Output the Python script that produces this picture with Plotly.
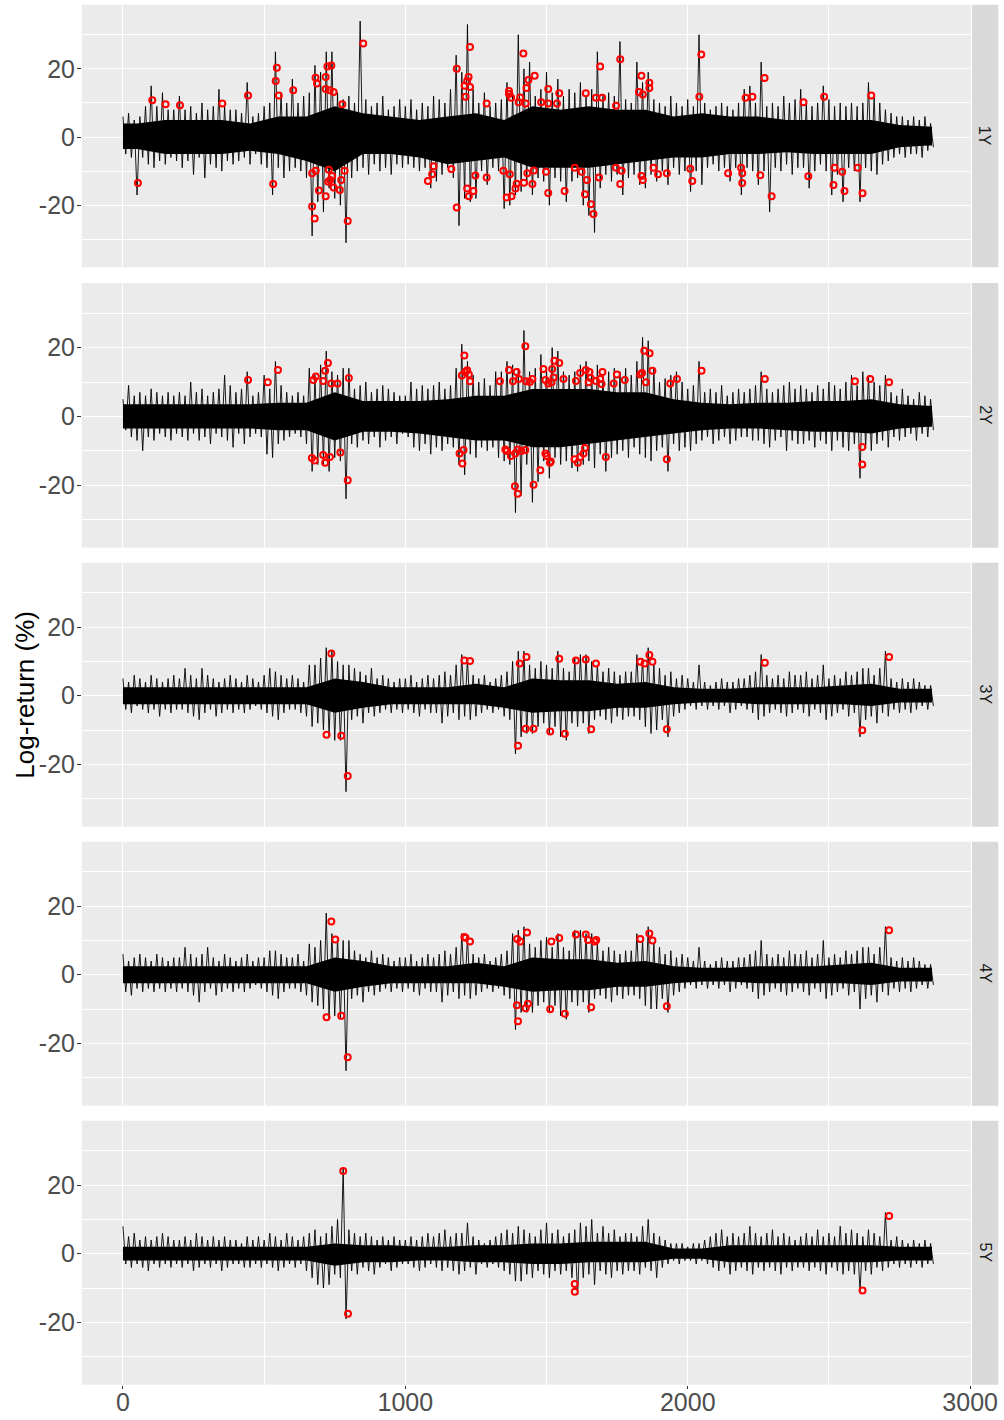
import plotly.graph_objects as go

# ---- data -------------------------------------------------------------
# Log-returns summarised per bin of 20 observations: highest and lowest value
BIN = 20
panels = ["1Y", "2Y", "3Y", "4Y", "5Y"]

hi_1y = [6, 7, 5, 6, 9, 15, 9, 13, 8, 8,
         12, 8, 9, 7, 10, 8, 9, 14, 9, 8,
         8, 7, 16, 6, 7, 9, 10, 25, 13, 10,
         17, 10, 12, 13, 21, 19, 25, 25, 13, 11,
         12, 10, 34, 11, 9, 10, 12, 8, 9, 11,
         9, 11, 8, 10, 9, 12, 11, 10, 14, 24,
         19, 33, 14, 10, 13, 9, 10, 11, 16, 13,
         30, 20, 22, 12, 14, 19, 13, 17, 12, 14,
         13, 16, 12, 14, 25, 12, 13, 12, 28, 11,
         10, 22, 16, 19, 11, 10, 9, 12, 10, 9,
         11, 9, 30, 10, 8, 9, 10, 9, 8, 10,
         14, 15, 10, 22, 9, 10, 9, 12, 10, 11,
         14, 10, 9, 10, 15, 11, 9, 10, 9, 10,
         9, 10, 16, 12, 10, 8, 7, 6, 6, 5, 6, 5, 6, 4]
lo_1y = [-5, -6, -17, -6, -8, -9, -7, -8, -6, -7,
         -9, -7, -11, -6, -12, -8, -9, -10, -7, -8,
         -7, -6, -8, -5, -8, -9, -17, -9, -12, -10,
         -9, -10, -12, -29, -19, -22, -15, -18, -20, -31,
         -12, -10, -9, -11, -8, -10, -9, -11, -8, -9,
         -8, -9, -10, -9, -15, -13, -11, -9, -12, -26,
         -18, -19, -18, -10, -14, -9, -10, -21, -20, -17,
         -16, -14, -17, -12, -13, -20, -12, -13, -19, -13,
         -12, -20, -23, -28, -15, -11, -13, -11, -17, -12,
         -11, -14, -15, -11, -13, -10, -14, -9, -11, -10,
         -16, -10, -14, -9, -8, -10, -9, -13, -9, -17,
         -9, -10, -14, -10, -22, -9, -10, -8, -11, -9,
         -9, -15, -10, -8, -10, -17, -11, -19, -9, -10,
         -19, -9, -10, -11, -8, -7, -6, -5, -6, -5, -5, -6, -4, -3]

hi_2y = [5, 9, 6, 7, 6, 8, 7, 6, 7, 6,
         7, 6, 10, 7, 8, 6, 7, 8, 12, 9,
         7, 8, 13, 6, 7, 12, 8, 16, 9, 7,
         6, 7, 6, 14, 12, 15, 19, 13, 12, 14,
         14, 8, 9, 10, 7, 8, 9, 8, 7, 6,
         6, 10, 8, 9, 8, 9, 10, 8, 9, 14,
         21, 16, 12, 10, 11, 9, 13, 13, 16, 15,
         14, 25, 13, 14, 18, 14, 20, 19, 13, 12,
         13, 15, 16, 13, 15, 12, 13, 14, 13, 14,
         12, 16, 23, 22, 14, 10, 11, 12, 13, 10,
         8, 9, 16, 7, 8, 7, 9, 6, 7, 8,
         7, 8, 9, 13, 8, 7, 8, 9, 10, 8,
         9, 8, 7, 9, 8, 10, 9, 8, 10, 12,
         9, 13, 12, 10, 9, 12, 7, 6, 8, 6, 5, 7, 6, 5]
lo_2y = [-4, -6, -7, -10, -6, -7, -5, -6, -7, -5,
         -6, -7, -5, -7, -6, -8, -5, -6, -7, -9,
         -5, -8, -6, -5, -6, -11, -12, -8, -7, -6,
         -5, -6, -8, -16, -14, -14, -16, -12, -13, -24,
         -8, -9, -7, -8, -6, -9, -7, -6, -8, -5,
         -6, -9, -10, -8, -11, -9, -10, -8, -9, -14,
         -17, -11, -12, -9, -10, -9, -12, -13, -14, -28,
         -23, -14, -25, -19, -13, -18, -12, -14, -13, -15,
         -16, -14, -13, -15, -11, -16, -12, -11, -10, -12,
         -9, -11, -12, -13, -10, -9, -16, -8, -10, -9,
         -10, -8, -7, -6, -8, -7, -6, -8, -7, -6,
         -6, -7, -7, -8, -9, -7, -6, -10, -7, -8,
         -8, -7, -9, -7, -8, -10, -7, -9, -10, -8,
         -18, -9, -10, -8, -7, -9, -6, -7, -6, -5, -7, -5, -6, -4]

hi_3y = [5, 4, 6, 5, 4, 6, 5, 4, 5, 6,
         5, 8, 6, 5, 8, 6, 5, 4, 5, 6,
         5, 4, 6, 5, 4, 6, 8, 7, 6, 5,
         6, 5, 4, 9, 9, 11, 14, 13, 10, 9,
         9, 8, 7, 6, 8, 5, 6, 5, 4, 5,
         5, 6, 4, 5, 6, 5, 6, 7, 6, 9,
         12, 11, 6, 5, 6, 4, 5, 6, 7, 10,
         13, 13, 9, 8, 10, 9, 8, 13, 8, 7,
         11, 12, 12, 10, 9, 7, 8, 7, 6, 7,
         7, 12, 11, 14, 9, 8, 6, 7, 5, 6,
         5, 4, 9, 4, 3, 4, 5, 4, 4, 5,
         5, 6, 7, 12, 6, 5, 6, 5, 7, 6,
         6, 7, 5, 6, 9, 5, 6, 5, 7, 6,
         7, 8, 8, 6, 8, 13, 5, 4, 5, 4, 5, 4, 3, 3]
lo_3y = [-4, -5, -3, -4, -5, -4, -6, -4, -5, -4,
         -4, -5, -6, -7, -5, -4, -6, -5, -4, -5,
         -4, -5, -4, -3, -4, -5, -6, -7, -5, -4,
         -4, -5, -6, -9, -8, -10, -12, -13, -13, -28,
         -7, -6, -8, -5, -6, -5, -4, -5, -4, -5,
         -4, -5, -6, -4, -5, -5, -8, -6, -5, -7,
         -6, -7, -6, -5, -4, -5, -4, -6, -7, -17,
         -12, -11, -11, -9, -8, -11, -9, -12, -13, -8,
         -9, -8, -11, -7, -6, -7, -8, -6, -7, -6,
         -6, -7, -9, -11, -10, -7, -12, -6, -5, -4,
         -3, -4, -3, -4, -3, -4, -3, -5, -4, -3,
         -4, -5, -7, -6, -5, -4, -5, -6, -5, -4,
         -5, -6, -4, -5, -7, -6, -5, -4, -6, -5,
         -12, -7, -6, -8, -5, -6, -4, -5, -4, -5, -4, -3, -4, -3]

hi_4y = [6, 4, 5, 6, 5, 4, 6, 5, 4, 5,
         5, 8, 6, 5, 6, 8, 5, 4, 6, 5,
         4, 5, 6, 4, 5, 5, 7, 7, 6, 5,
         5, 6, 4, 9, 8, 10, 18, 12, 11, 10,
         10, 7, 6, 5, 7, 5, 6, 5, 4, 5,
         5, 6, 4, 5, 6, 5, 6, 7, 6, 8,
         12, 11, 6, 5, 6, 4, 5, 6, 7, 12,
         13, 14, 9, 8, 10, 11, 8, 12, 8, 7,
         13, 13, 12, 12, 9, 7, 8, 7, 6, 7,
         7, 12, 10, 14, 9, 8, 6, 7, 5, 6,
         5, 4, 8, 4, 3, 4, 5, 4, 4, 5,
         5, 6, 7, 10, 6, 5, 6, 5, 7, 6,
         6, 7, 5, 6, 10, 5, 6, 5, 7, 6,
         7, 8, 8, 6, 8, 14, 5, 4, 5, 4, 5, 4, 3, 3]
lo_4y = [-5, -6, -4, -5, -4, -5, -4, -5, -4, -5,
         -4, -5, -6, -8, -5, -4, -6, -5, -4, -5,
         -4, -5, -4, -3, -4, -5, -6, -7, -5, -4,
         -4, -5, -6, -8, -9, -10, -13, -12, -13, -28,
         -7, -6, -8, -5, -6, -5, -4, -5, -4, -5,
         -4, -5, -6, -4, -5, -5, -8, -6, -5, -7,
         -6, -7, -6, -5, -4, -5, -4, -6, -7, -16,
         -11, -11, -11, -9, -8, -11, -9, -12, -13, -8,
         -9, -8, -11, -7, -6, -7, -8, -6, -7, -6,
         -6, -7, -9, -10, -10, -7, -11, -6, -5, -4,
         -3, -4, -3, -4, -3, -4, -3, -5, -4, -3,
         -4, -5, -7, -6, -5, -4, -5, -6, -5, -4,
         -5, -6, -4, -5, -7, -6, -5, -4, -6, -5,
         -10, -7, -6, -8, -5, -6, -4, -5, -4, -5, -4, -3, -4, -3]

hi_5y = [8, 5, 6, 4, 5, 4, 5, 6, 5, 4,
         4, 5, 4, 6, 5, 4, 5, 4, 5, 4,
         4, 3, 5, 4, 5, 4, 6, 5, 4, 6,
         5, 4, 5, 6, 7, 5, 6, 8, 10, 25,
         7, 6, 5, 6, 5, 4, 5, 4, 5, 4,
         4, 5, 4, 5, 6, 5, 6, 7, 5, 6,
         6, 9, 5, 4, 3, 4, 5, 6, 7, 6,
         8, 7, 6, 5, 7, 9, 6, 7, 5, 6,
         7, 9, 8, 10, 6, 8, 6, 7, 5, 6,
         6, 5, 8, 10, 6, 5, 4, 3, 3, 3,
         2, 3, 3, 4, 5, 6, 7, 5, 6, 5,
         6, 8, 6, 5, 6, 7, 5, 6, 5, 4,
         5, 6, 5, 7, 5, 6, 5, 8, 6, 7,
         6, 5, 7, 6, 5, 12, 4, 5, 4, 3, 4, 3, 4, 3]
lo_5y = [-3, -4, -3, -4, -5, -3, -4, -3, -4, -3,
         -4, -3, -5, -4, -3, -4, -3, -5, -4, -3,
         -3, -4, -4, -3, -4, -3, -4, -5, -4, -3,
         -4, -3, -5, -7, -9, -10, -9, -6, -7, -19,
         -5, -6, -4, -5, -6, -4, -3, -5, -4, -3,
         -3, -4, -5, -4, -3, -4, -5, -4, -5, -6,
         -5, -4, -6, -3, -4, -3, -4, -5, -6, -8,
         -8, -6, -7, -5, -6, -7, -5, -6, -5, -7,
         -12, -7, -6, -9, -5, -6, -7, -5, -6, -5,
         -5, -6, -4, -5, -7, -4, -3, -2, -3, -2,
         -2, -3, -2, -3, -4, -5, -4, -6, -5, -4,
         -5, -6, -4, -5, -4, -5, -6, -4, -5, -4,
         -4, -5, -4, -5, -6, -4, -5, -6, -5, -6,
         -11, -5, -6, -4, -5, -4, -3, -4, -3, -4, -3, -4, -3, -3]

# Dense core of each series (where most observations lie), per 100 observations
CORE_BIN = 100
core_hi_1y = [4, 5, 5, 5, 4, 6, 6, 9, 7, 6, 5, 6, 7, 5, 9, 8, 9, 8, 8, 6, 7, 6, 6, 5, 5, 5, 5, 3.5, 3]
core_lo_1y = [-3.5, -5, -5, -5, -4, -5, -7, -10, -5, -5, -6, -8, -7, -6, -9, -9, -9, -8, -7, -6, -6, -5, -5, -4.5, -5, -5, -5, -3, -2.5]
core_hi_2y = [3.5, 3.5, 3.5, 3.5, 3.5, 4, 4, 7, 4.5, 4.5, 4.5, 5, 6, 6, 8, 8, 8, 7, 7, 5, 4, 3.5, 4, 4, 4.5, 4.5, 5, 3.5, 3]
core_lo_2y = [-3.5, -3.5, -3.5, -3.5, -3.5, -4, -4, -7, -4.5, -4.5, -5, -6, -7, -7, -9, -9, -8, -7, -6, -5, -4, -3.5, -3.5, -4, -4.5, -4.5, -5, -3.5, -3]
core_hi_3y = [2.5, 2.5, 2.5, 2.5, 2.5, 2.5, 2.5, 5, 4, 2.5, 2.5, 2.5, 3.5, 2.5, 5, 4.5, 4.5, 3.5, 4, 2.5, 2, 2, 2.5, 2.5, 2.5, 3, 3.5, 2, 2]
core_lo_3y = [-2.5, -2.5, -2.5, -2.5, -2.5, -2.5, -2.5, -5, -3.5, -2.5, -2.5, -2.5, -2.5, -3.5, -5, -4.5, -4.5, -3.5, -3.5, -2.5, -2, -2, -2.5, -2.5, -2.5, -2.5, -3, -2, -2]
core_hi_4y = [2.5, 2.5, 2.5, 2.5, 2.5, 2.5, 2.5, 5, 4, 2.5, 2.5, 2.5, 3.5, 2.5, 5, 4.5, 4.5, 3.5, 4, 2.5, 2, 2, 2.5, 2.5, 2.5, 3, 3.5, 2, 2]
core_lo_4y = [-2.5, -2.5, -2.5, -2.5, -2.5, -2.5, -2.5, -5, -3.5, -2.5, -2.5, -2.5, -2.5, -3.5, -5, -4.5, -4.5, -3.5, -3.5, -2.5, -2, -2, -2.5, -2.5, -2.5, -2.5, -3, -2, -2]
core_hi_5y = [2, 2, 2, 2, 2, 2, 2, 3, 2.5, 2.5, 2, 2, 2.5, 2.5, 3, 3, 3.5, 3.5, 3.5, 1.5, 1.5, 2.5, 2.5, 2.5, 2.5, 2.5, 2.5, 2, 2]
core_lo_5y = [-2, -2, -2, -2, -2, -2, -2, -3.5, -2.5, -2.5, -2, -2, -2.5, -2.5, -3, -3, -2.5, -2.5, -2.5, -1.5, -1.5, -2.5, -2.5, -2.5, -2.5, -2.5, -2.5, -2, -2]
LAST_OBS = 2865

# Flagged extreme returns (index, log-return %)
ext_x_1y = [53, 104, 151, 202, 352, 443, 532, 541, 545, 552, 603, 670, 670, 679, 682, 687, 683, 694,
            718, 718, 724, 738, 732, 746, 718, 729, 727, 734, 741, 746, 777, 773, 768, 785, 796, 851,
            1080, 1095, 1100, 1163, 1182, 1182, 1210, 1213, 1219, 1224, 1229, 1229, 1219, 1225, 1241,
            1248, 1288, 1288, 1347, 1359, 1367, 1367, 1370, 1375, 1376, 1390, 1394, 1401, 1407, 1418,
            1420, 1426, 1429, 1432, 1436, 1450, 1455, 1458, 1481, 1498, 1506, 1506, 1506, 1537, 1545,
            1564, 1600, 1624, 1636, 1639, 1643, 1657, 1666, 1675, 1686, 1690, 1697, 1746, 1746, 1761,
            1761, 1766, 1827, 1836, 1836, 1841, 1841, 1864, 1864, 1879, 1895, 1926, 2009, 2016, 2041,
            2048, 2143, 2189, 2193, 2193, 2205, 2229, 2257, 2272, 2297, 2410, 2427, 2483, 2516, 2520,
            2547, 2555, 2602, 2619, 2650]
ext_y_1y = [-13.5, 10.8, 9.6, 9.3, 9.8, 12.2, -13.8, 16.4, 20.3, 12.2, 13.7, -10.6, -20.4, -23.9, 17.4,
            15.7, -9.9, -15.7, 17.6, 14.1, 20.7, 21.0, 13.7, 13.2, -17.4, -9.6, -13.1, -12.6, -11.4,
            -14.8, 9.6, -12.6, -15.5, -9.9, -24.6, 27.4,
            -12.9, -10.9, -8.6, -9.4, 20.0, -20.7, 15.0, 11.8, 16.4, 17.6, 26.4, 14.7, -15.1, -17.4,
            -15.8, -11.3, 9.8, -11.9, -9.9, -17.7, 13.5, 12.6, -10.9, 11.5, -17.4, -15.1, -13.7, 10.2,
            11.6, 24.5, -13.4, 9.8, 14.4, -10.6, 16.7, -13.8, -9.8, 18.0, 10.2, -10.2, 14.1, 9.8, -16.4,
            9.8, 12.8, -15.8, -9.0, -10.2, -16.8, 12.8, -12.6, -19.7, -22.6, 11.5, -11.9, 20.7, 11.5,
            9.2, -9.0, 22.8, -13.8, -9.9, 13.2, 18.0, -11.4, 12.5, -12.6, 15.9, 14.4, -9.0, -10.9,
            -10.6, -9.3, -12.9, 11.8, 24.2, -10.6, -9.0, -10.6, -13.5, 11.5, 11.8, -11.2, 17.3, -17.4,
            10.2, -11.5, 11.8, -14.1, -9.0, -10.2, -15.8, -9.0, -16.5, 12.2]

ext_x_2y = [443, 513, 549, 674, 683, 709, 716, 726, 738, 760, 800, 1200, 1209, 1212, 1219, 1225, 1229,
            1335, 1367, 1381, 1394, 1402, 1425, 1428, 669, 679, 709, 716, 733, 770, 796, 1192, 1202,
            1206, 1354, 1360, 1374, 1389, 1398, 1388, 1398, 1411, 1425,
            1441, 1450, 1489, 1496, 1506, 1518, 1520, 1525, 1528, 1545, 1560, 1604, 1619, 1639, 1649,
            1652, 1656, 1675, 1690, 1695, 1698, 1738, 1749, 1777, 1832, 1838, 1846, 1852, 1865, 1875,
            1938, 1962, 2049, 2273, 2592, 2646, 2713,
            1454, 1478, 1496, 1501, 1512, 1515, 1599, 1611, 1619, 1631, 1636, 1710, 1926, 2618, 2618]
ext_y_2y = [10.6, 9.9, 13.5, 10.6, 11.6, 10.3, 13.3, 15.5, 9.6, 9.6, 11.2, 11.9, 17.7, 12.9, 13.4, 12.2,
            10.2, 10.2, 13.5, 10.2, 12.9, 10.9, 20.4, 10.2, -12.1, -12.8, -11.2, -13.5, -11.8, -10.5,
            -18.6, -10.8, -13.7, -9.8, -9.6, -10.1, -11.5, -10.8, -9.6, -20.3, -22.5, -10.1, -9.8,
            10.0, 10.9, 13.8, 10.6, 9.6, 9.9, 13.8, 11.3, 16.2, 15.5, 10.9, 10.3, 12.6, 13.5, 9.9,
            12.9, 11.2, 10.3, 10.9, 9.4, 12.9, 9.6, 12.2, 10.6, 12.2, 12.6, 19.1, 9.9, 18.4, 13.3,
            9.6, 10.9, 13.3, 10.9, 10.2, 10.9, 9.9,
            -19.9, -15.7, -10.8, -11.5, -13.5, -13.1, -12.5, -13.5, -11.8, -10.8, -9.2, -11.8, -12.5,
            -8.9, -14.0]

ext_x_3y = [738, 721, 773, 796, 1209, 1229, 1399, 1405, 1429, 1426, 1454, 1513, 1545, 1565, 1604, 1639,
            1658, 1675, 1832, 1847, 1864, 1875, 1926, 2273, 2618, 2713]
ext_y_3y = [12.3, -11.4, -11.7, -23.4, 10.3, 10.1, -14.6, 9.4, 11.3, -9.6, -9.6, -10.4, 10.8, -11.1,
            10.3, 10.6, -9.8, 9.4, 9.9, 9.4, 11.9, 9.9, -9.8, 9.6, -10.1, 11.3]

ext_x_4y = [738, 752, 721, 773, 796, 1209, 1213, 1229, 1395, 1399, 1396, 1407, 1431, 1426, 1434, 1517,
            1513, 1545, 1565, 1604, 1639, 1647, 1658, 1670, 1676, 1832, 1864, 1875, 1926, 2713]
ext_y_4y = [15.5, 10.3, -12.4, -12.0, -24.1, 11.0, 10.8, 9.7, -8.9, -13.6, 10.4, 9.7, 12.3, -9.8, -8.5,
            9.7, -10.1, 10.7, -11.4, 11.7, 11.7, 10.1, -9.5, 9.7, 10.1, 10.4, 12.0, 10.0, -9.2, 13.0]

ext_x_5y = [780, 797, 1600, 1600, 2619, 2713]
ext_y_5y = [24.1, -17.5, -8.8, -11.1, -10.7, 11.0]

x_ticks = [0, 1000, 2000, 3000]
y_ticks = [-20, 0, 20]
y_ticklabels = ["-20", "0", "20"]

highs = [hi_1y, hi_2y, hi_3y, hi_4y, hi_5y]
lows = [lo_1y, lo_2y, lo_3y, lo_4y, lo_5y]
core_his = [core_hi_1y, core_hi_2y, core_hi_3y, core_hi_4y, core_hi_5y]
core_los = [core_lo_1y, core_lo_2y, core_lo_3y, core_lo_4y, core_lo_5y]
ext_xs = [ext_x_1y, ext_x_2y, ext_x_3y, ext_x_4y, ext_x_5y]
ext_ys = [ext_y_1y, ext_y_2y, ext_y_3y, ext_y_4y, ext_y_5y]

# ---- layout geometry (pixels) ----------------------------------------
W, H = 1004, 1420
PX_LEFT, PX_RIGHT = 81.7, 970.7
STRIP_L, STRIP_R = 972.0, 998.3
PANEL_TOP = [4.7, 283.0, 562.7, 841.7, 1120.7]
PANEL_BOT = [267.3, 547.7, 826.7, 1105.7, 1384.7]

FONT = "Liberation Sans, Arial, sans-serif"
PANEL_BG = "#EBEBEB"
STRIP_BG = "#D9D9D9"

fig = go.Figure()
layout = dict(
    width=W, height=H, autosize=False,
    margin=dict(l=0, r=0, t=0, b=0, pad=0),
    paper_bgcolor="white",
    plot_bgcolor=PANEL_BG,
    showlegend=False,
    font=dict(family=FONT),
    shapes=[], annotations=[],
)

for k, name in enumerate(panels):
    n = k + 1
    xa = "x" if n == 1 else f"x{n}"
    ya = "y" if n == 1 else f"y{n}"

    # dense core band as a closed polygon
    centers = [CORE_BIN * j + CORE_BIN / 2 for j in range(len(core_his[k]))]
    cx = [0] + centers + [LAST_OBS]
    chi = [core_his[k][0]] + core_his[k] + [core_his[k][-1]]
    clo = [core_los[k][0]] + core_los[k] + [core_los[k][-1]]
    fig.add_trace(go.Scatter(x=cx + cx[::-1], y=chi + clo[::-1], mode="lines",
                             fill="toself", fillcolor="black", line=dict(width=0, color="black"),
                             xaxis=xa, yaxis=ya, hoverinfo="skip"))

    # high/low excursions within each bin
    xs, ys = [], []
    for i, (h, l) in enumerate(zip(highs[k], lows[k])):
        xs += [BIN * i, BIN * i + BIN / 2]
        ys += [h, l]
    fig.add_trace(go.Scatter(x=xs, y=ys, mode="lines", xaxis=xa, yaxis=ya,
                             line=dict(color="black", width=0.9), hoverinfo="skip"))

    fig.add_trace(go.Scatter(x=ext_xs[k], y=ext_ys[k], mode="markers", xaxis=xa, yaxis=ya,
                             marker=dict(symbol="circle-open", size=6, color="#FF0000",
                                         line=dict(width=2))))

    y0 = (H - PANEL_BOT[k]) / H
    y1 = (H - PANEL_TOP[k]) / H
    bottom = n == 5
    layout[f"xaxis{'' if n == 1 else n}"] = dict(
        domain=[PX_LEFT / W, PX_RIGHT / W], anchor=ya, range=[-146, 3002],
        tickmode="array", tickvals=x_ticks,
        showgrid=True, gridcolor="white", gridwidth=1.1,
        minor=dict(tickmode="array", tickvals=[500, 1500, 2500], showgrid=True,
                   gridcolor="white", gridwidth=0.55),
        zeroline=False, showline=False, automargin=False,
        ticks="outside" if bottom else "", ticklen=3.7, tickwidth=1.1, tickcolor="#333333",
        showticklabels=bottom, ticklabelstandoff=-8,
        tickfont=dict(size=25, color="#4D4D4D", family=FONT),
        matches=None if n == 1 else "x",
    )
    layout[f"yaxis{'' if n == 1 else n}"] = dict(
        domain=[y0, y1], anchor=xa, range=[-38.2, 38.8],
        tickmode="array", tickvals=y_ticks, ticktext=y_ticklabels,
        showgrid=True, gridcolor="white", gridwidth=1.1,
        minor=dict(tickmode="array", tickvals=[-30, -10, 10, 30], showgrid=True,
                   gridcolor="white", gridwidth=0.55),
        zeroline=False, showline=False, automargin=False,
        ticks="outside", ticklen=3.7, tickwidth=1.1, tickcolor="#333333",
        ticklabelstandoff=-3,
        tickfont=dict(size=25, color="#4D4D4D", family=FONT),
    )
    layout["shapes"].append(dict(type="rect", xref="paper", yref="paper",
                                 x0=STRIP_L / W, x1=STRIP_R / W, y0=y0, y1=y1,
                                 fillcolor=STRIP_BG, line=dict(width=0), layer="below"))
    layout["annotations"].append(dict(text=name, xref="paper", yref="paper",
                                      x=(STRIP_L + STRIP_R) / 2 / W, y=(y0 + y1) / 2,
                                      xanchor="center", yanchor="middle",
                                      showarrow=False, textangle=90,
                                      font=dict(size=16, color="#1A1A1A", family=FONT)))

layout["annotations"].append(dict(text="Log-return (%)", xref="paper", yref="paper",
                                  x=25 / W, y=(H - (PANEL_TOP[0] + PANEL_BOT[-1]) / 2) / H,
                                  xanchor="center", yanchor="middle",
                                  showarrow=False, textangle=-90,
                                  font=dict(size=26, color="black", family=FONT)))

fig.update_layout(**layout)
fig.write_html("out.html", config={"responsive": False})
